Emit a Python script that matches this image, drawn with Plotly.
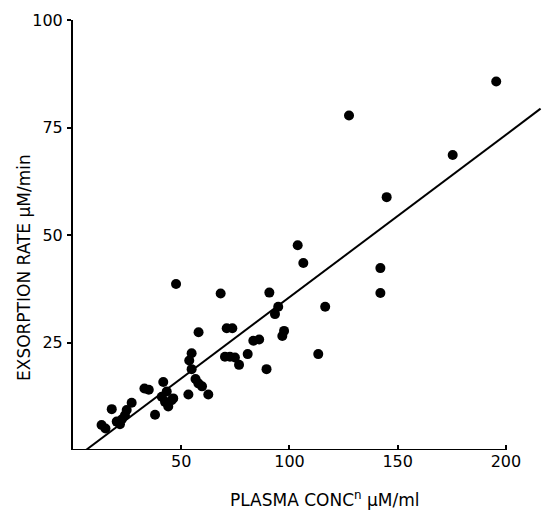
import plotly.graph_objects as go

# Plasma concentration (µM/ml) and exsorption rate (µM/min)
plasma_conc = [195.5, 175.4, 144.9, 142.0, 142.0, 127.5, 103.8, 106.4, 68.2, 90.7,
               94.8, 93.3, 116.5, 71.0, 73.6, 97.5, 96.7, 83.3, 86.0, 80.7,
               70.2, 72.5, 74.8, 76.7, 89.4, 113.3, 58.0, 47.6, 54.8, 53.7,
               54.8, 56.6, 57.9, 59.6, 62.5, 53.3, 41.7, 33.0, 35.0, 37.9,
               41.0, 43.3, 42.5, 45.6, 44.0, 46.3, 13.2, 15.0, 17.9, 20.2,
               21.7, 22.5, 24.0, 24.8, 27.1]
exsorption_rate = [85.7, 68.6, 58.8, 42.3, 36.5, 77.8, 47.6, 43.5, 36.4, 36.6,
                   33.3, 31.6, 33.3, 28.3, 28.3, 27.7, 26.5, 25.4, 25.7, 22.3,
                   21.7, 21.7, 21.5, 19.8, 18.8, 22.3, 27.4, 38.6, 22.5, 20.8,
                   18.8, 16.5, 15.5, 14.8, 12.9, 12.9, 15.8, 14.3, 14.0, 8.2,
                   12.4, 13.6, 11.2, 11.6, 10.1, 12.0, 5.8, 5.0, 9.5, 6.6,
                   6.0, 7.1, 8.1, 9.3, 11.0]

# Regression line
fit_x = [6.0, 216.0]
fit_slope = 0.378
fit_intercept = -2.27
fit_y = [fit_slope * v + fit_intercept for v in fit_x]

x_ticks = [50, 100, 150, 200]
y_ticks = [25, 50, 75, 100]

FONT = "DejaVu Sans"

fig = go.Figure()
fig.add_trace(go.Scatter(x=fit_x, y=fit_y, mode="lines",
                         line=dict(color="black", width=2), hoverinfo="skip",
                         showlegend=False))
fig.add_trace(go.Scatter(x=plasma_conc, y=exsorption_rate, mode="markers",
                         marker=dict(color="black", size=10, line=dict(width=0)),
                         showlegend=False, cliponaxis=False))

# x axis line only spans 0..200
fig.add_shape(type="line", xref="x", yref="y", x0=0, x1=200, y0=0, y1=0,
              line=dict(color="black", width=2))

fig.update_layout(
    width=549, height=515,
    margin=dict(l=73, r=3, t=20, b=65),
    paper_bgcolor="white", plot_bgcolor="white",
    font=dict(family=FONT, color="black", size=16),
    xaxis=dict(range=[0, 218.5], tickvals=x_ticks, ticktext=[str(v) for v in x_ticks],
               ticks="inside", ticklen=5, tickwidth=1.5, tickcolor="black",
               showgrid=False, zeroline=False, showline=False,
               tickfont=dict(size=16, family=FONT)),
    yaxis=dict(range=[0, 100], tickvals=y_ticks, ticktext=[str(v) for v in y_ticks],
               ticks="outside", ticklen=4, tickwidth=1.5, tickcolor="black",
               showgrid=False, zeroline=False, showline=True, linecolor="black",
               linewidth=2, tickfont=dict(size=16, family=FONT), ticklabelstandoff=1),
    annotations=[
        dict(text="PLASMA CONC<sup>n</sup> μM/ml", xref="paper", yref="paper",
             x=(325 - 73) / 473, y=-(499 - 450) / 430, xanchor="center", yanchor="middle",
             showarrow=False, font=dict(size=17, family=FONT)),
        dict(text="EXSORPTION RATE μM/min", xref="paper", yref="paper",
             x=-(73 - 24) / 473, y=(450 - 268) / 430, xanchor="center", yanchor="middle",
             textangle=-90, showarrow=False, font=dict(size=17, family=FONT)),
    ],
)

fig.write_html("out.html", config={"displayModeBar": False},
               post_script="document.body.style.margin='0';")
